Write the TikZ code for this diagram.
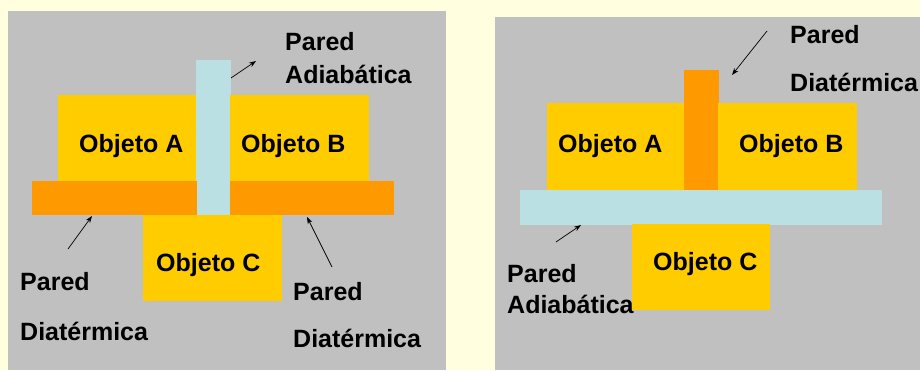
\documentclass[tikz,border=0pt]{standalone}
\usepackage{fontspec}
\setmainfont{Liberation Sans}
\usetikzlibrary{arrows.meta}
\definecolor{bgyellow}{HTML}{FFFFE0}
\definecolor{panelgray}{HTML}{C0C0C0}
\definecolor{objyellow}{HTML}{FFCC00}
\definecolor{wallorange}{HTML}{FF9900}
\definecolor{wallblue}{HTML}{BBE0E3}
\tikzset{
  blockbox/.style={draw=none, inner sep=0pt, outer sep=0pt, anchor=north west},
  lbl/.style={anchor=base west, inner sep=0pt, font=\fontsize{25}{30}\selectfont\bfseries},
  ptr/.style={-{Stealth[length=7pt,width=5pt]}, line width=0.7pt, black},
}
\newcommand{\blk}[6]{% name, color, x1, y1, x2, y2
  \node[blockbox, fill=#2, minimum width=#5pt-#3pt, minimum height=#6pt-#4pt] (#1) at (#3,#4) {};}
\begin{document}
\begin{tikzpicture}[x=1pt,y=-1pt]
\useasboundingbox (0,0) rectangle (920,370);
\fill[bgyellow] (0,0) rectangle (920,370);
% ---------- left panel ----------
\blk{panelL}{panelgray}{8}{11}{446}{370}
\blk{awallL}{wallblue}{196}{60}{231}{215}
\blk{objAL}{objyellow}{58}{95}{196}{181}
\blk{objBL}{objyellow}{230}{95}{369}{181}
\blk{dwallLa}{wallorange}{32}{181}{197}{215}
\blk{dwallLb}{wallorange}{230}{181}{394}{215}
\blk{objCL}{objyellow}{143}{215}{282}{301}
\node[lbl] (tAL) at (79,152) {Objeto A};
\node[lbl] (tBL) at (241,152) {Objeto B};
\node[lbl] (tCL) at (156,271) {Objeto C};
\node[lbl] (p1) at (285,50) {Pared};
\node[lbl] (a1) at (285,83) {Adiabática};
\node[lbl] (p2) at (20,290) {Pared};
\node[lbl] (d2) at (20,340) {Diatérmica};
\node[lbl] (p3) at (293,300) {Pared};
\node[lbl] (d3) at (293,347) {Diatérmica};
\coordinate (e1s) at (231,78);  \coordinate (e1e) at (256,61);
\coordinate (e2s) at (68,249);  \coordinate (e2e) at (92,216);
\coordinate (e3s) at (332,267); \coordinate (e3e) at (307,217);
\draw[ptr] (e1s) -- (e1e);
\draw[ptr] (e2s) -- (e2e);
\draw[ptr] (e3s) -- (e3e);
% ---------- right panel ----------
\blk{panelR}{panelgray}{495}{17}{920}{370}
\blk{dwallR}{wallorange}{684}{70}{719}{190}
\blk{objAR}{objyellow}{547}{103}{684}{190}
\blk{objBR}{objyellow}{718}{103}{857}{192}
\blk{awallR}{wallblue}{520}{190}{882}{225}
\blk{objCR}{objyellow}{632}{224}{770}{310}
\node[lbl] (tAR) at (558,152) {Objeto A};
\node[lbl] (tBR) at (739,152) {Objeto B};
\node[lbl] (tCR) at (653,270) {Objeto C};
\node[lbl] (p4) at (790,43) {Pared};
\node[lbl] (d4) at (790,91) {Diatérmica};
\node[lbl] (p5) at (507,282) {Pared};
\node[lbl] (a5) at (507,313) {Adiabática};
\coordinate (e4s) at (767,31);  \coordinate (e4e) at (732,75);
\coordinate (e5s) at (556,242); \coordinate (e5e) at (581,225);
\draw[ptr] (e4s) -- (e4e);
\draw[ptr] (e5s) -- (e5e);
\end{tikzpicture}
\end{document}
